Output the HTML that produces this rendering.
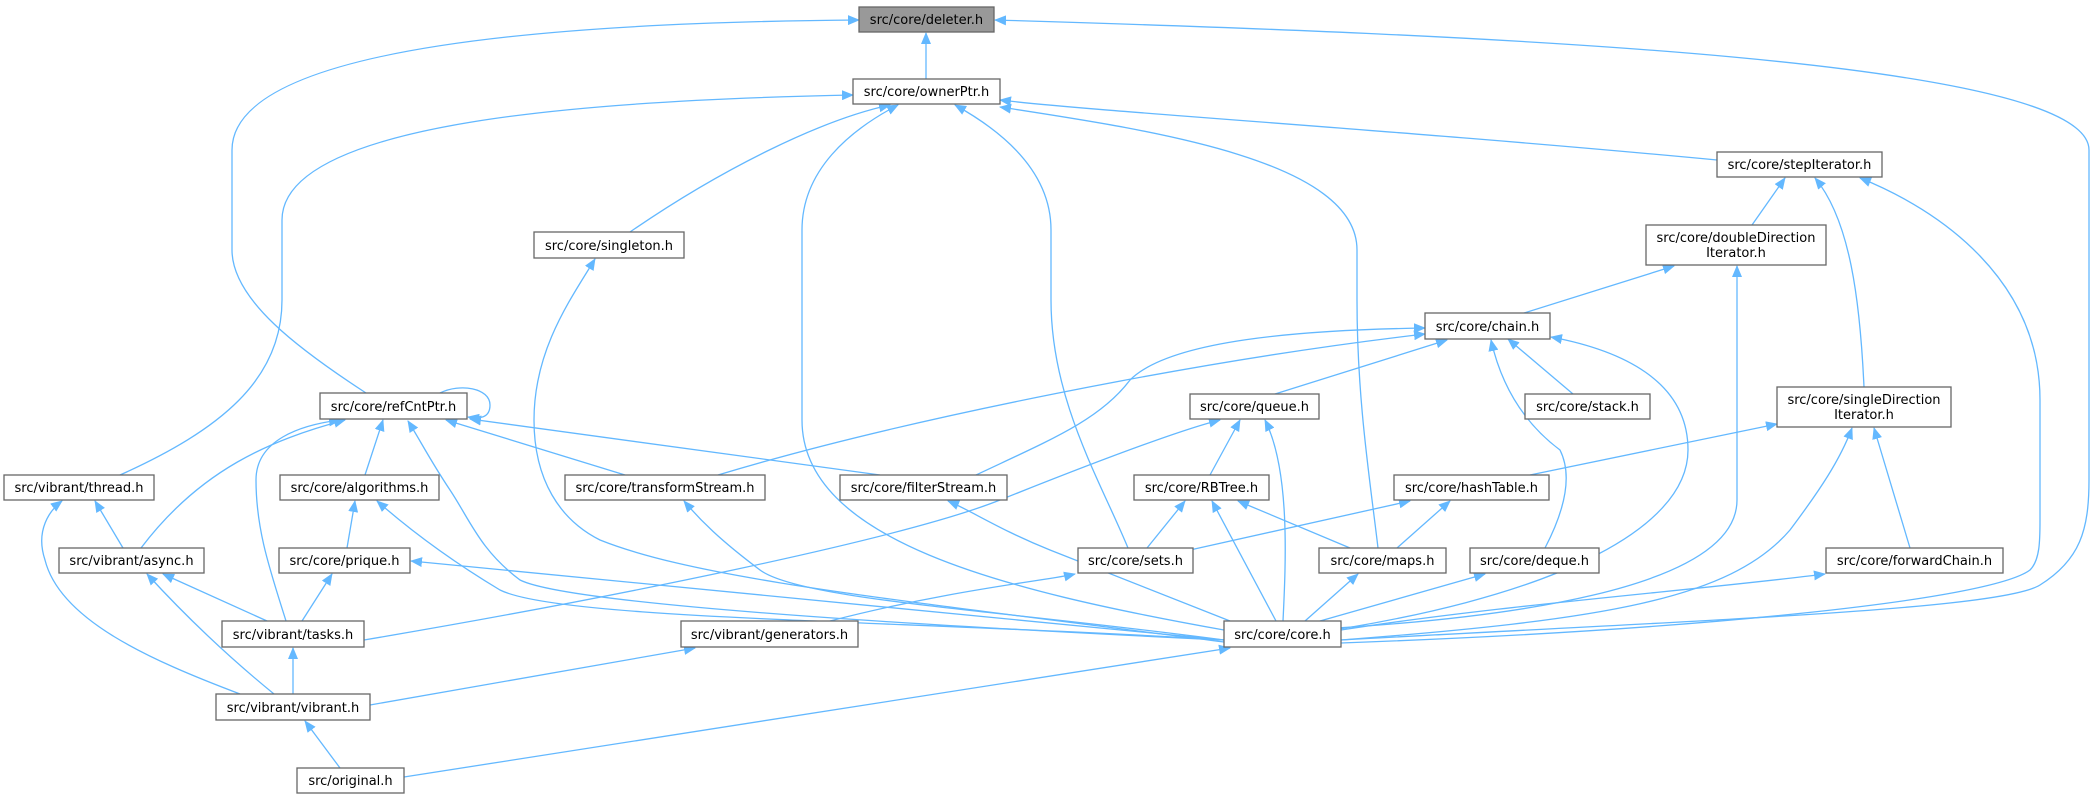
<!DOCTYPE html>
<html><head><meta charset="utf-8"><style>
html,body{margin:0;padding:0;background:#fff;}
svg{display:block;}
text{font-family:"DejaVu Sans","Liberation Sans",sans-serif;font-size:13px;fill:#000;}
.e{fill:none;stroke:#63b8ff;stroke-width:1.3;}
.n{fill:#fff;stroke:#666;stroke-width:1.3;}
</style></head><body>
<svg width="2096" height="799" viewBox="0 0 2096 799" xmlns="http://www.w3.org/2000/svg">
<defs>
<marker id="a" markerWidth="12" markerHeight="10" refX="11" refY="5" orient="auto" markerUnits="userSpaceOnUse">
<path d="M0,0 L12,5 L0,10 Z" fill="#63b8ff"/>
</marker>
</defs>
<g class="e" marker-end="url(#a)">
<path d="M926,79 L926,33"/>
<path d="M366,393 C300,350 232,300 232,250 L232,150 C232,40 600,22 859,20"/>
<path d="M120,475 C220,430 282,380 282,300 L282,220 C282,120 600,100 853,95"/>
<path d="M1341,640 C1700,620 2000,610 2040,585 C2080,560 2089,530 2089,480 L2089,150 C2089,60 1500,35 995,20"/>
<path d="M1717,160 C1400,130 1100,112 1000,100"/>
<path d="M630,232 C720,170 820,120 890,105"/>
<path d="M1224,630 C1000,590 802,540 802,420 L802,230 C802,170 850,130 898,105"/>
<path d="M1128,548 C1100,480 1051,400 1051,300 L1051,230 C1051,170 1000,130 955,105"/>
<path d="M1378,548 C1370,480 1357,400 1357,300 L1357,250 C1357,160 1150,130 1000,107"/>
<path d="M1752,225 L1785,178"/>
<path d="M1864,387 C1860,300 1850,220 1815,178"/>
<path d="M1341,643 C1700,630 1990,600 2030,570 C2040,560 2040,540 2040,520 L2040,400 C2040,280 1940,210 1860,178"/>
<path d="M1524,313 L1674,266"/>
<path d="M1300,630 C1500,620 1737,590 1737,500 L1737,266"/>
<path d="M1275,394 L1447,340"/>
<path d="M718,475 C900,420 1200,360 1425,334"/>
<path d="M976,475 C1050,440 1100,420 1130,380 C1170,340 1300,330 1425,328"/>
<path d="M1573,394 L1508,339"/>
<path d="M1545,548 C1570,500 1570,470 1560,450 C1520,420 1500,380 1491,340"/>
<path d="M1300,635 C1550,600 1688,530 1688,450 C1688,380 1620,350 1551,337"/>
<path d="M1530,475 L1777,424"/>
<path d="M1910,548 L1874,428"/>
<path d="M1341,640 C1600,620 1730,600 1790,530 C1820,490 1840,460 1852,428"/>
<path d="M1224,642 C900,600 700,580 600,540 C560,520 534,480 534,420 C534,350 570,300 595,259"/>
<path d="M440,393 C460,383 490,388 490,405 C490,418 480,419 468,417"/>
<path d="M365,475 L383,420"/>
<path d="M625,475 L446,420"/>
<path d="M880,475 L470,419"/>
<path d="M141,548 C200,470 270,440 345,420"/>
<path d="M286,621 C270,570 256,530 256,480 C256,440 300,425 340,420"/>
<path d="M1224,640 C800,620 560,600 520,580 C480,550 470,520 450,490 C430,460 420,440 408,421"/>
<path d="M1210,475 L1240,420"/>
<path d="M1283,621 C1286,560 1290,470 1265,420"/>
<path d="M364,640 C600,600 900,540 1000,500 C1100,460 1180,430 1220,420"/>
<path d="M1147,548 L1185,501"/>
<path d="M1350,548 L1238,501"/>
<path d="M1276,621 L1212,501"/>
<path d="M1190,550 L1410,501"/>
<path d="M1397,548 L1450,501"/>
<path d="M830,621 C950,590 1050,580 1075,574"/>
<path d="M1305,621 L1358,574"/>
<path d="M1320,621 L1485,574"/>
<path d="M1341,630 C1500,605 1700,590 1825,574"/>
<path d="M1224,640 C1000,610 800,600 760,570 C720,540 700,520 684,501"/>
<path d="M1230,621 C1150,590 1100,570 1050,550 C1000,530 970,510 948,501"/>
<path d="M1224,640 C900,620 560,620 500,590 C450,560 410,530 377,501"/>
<path d="M1224,640 L411,561"/>
<path d="M302,621 L332,574"/>
<path d="M347,548 L355,501"/>
<path d="M123,548 L95,501"/>
<path d="M240,694 C150,660 60,620 45,560 C35,530 50,510 62,501"/>
<path d="M267,621 L163,574"/>
<path d="M274,694 C220,650 180,610 147,574"/>
<path d="M293,694 L293,648"/>
<path d="M370,705 L695,648"/>
<path d="M340,768 L305,721"/>
<path d="M404,777 L1230,648"/>
</g>
<g>
<rect x="859" y="7" width="135" height="25" fill="#999" stroke="#666" stroke-width="1.3"/>
<text x="926.5" y="24" text-anchor="middle">src/core/deleter.h</text>
<rect class="n" x="853" y="79" width="147" height="25"/><text x="926.5" y="96" text-anchor="middle">src/core/ownerPtr.h</text>
<rect class="n" x="1717" y="152" width="165" height="25"/><text x="1799.5" y="169" text-anchor="middle">src/core/stepIterator.h</text>
<rect class="n" x="534" y="232" width="150" height="26"/><text x="609" y="250" text-anchor="middle">src/core/singleton.h</text>
<rect class="n" x="1646" y="225" width="180" height="40"/><text x="1736" y="242" text-anchor="middle">src/core/doubleDirection</text><text x="1736" y="257" text-anchor="middle">Iterator.h</text>
<rect class="n" x="1425" y="313" width="125" height="26"/><text x="1487.5" y="331" text-anchor="middle">src/core/chain.h</text>
<rect class="n" x="320" y="393" width="147" height="26"/><text x="393.5" y="411" text-anchor="middle">src/core/refCntPtr.h</text>
<rect class="n" x="1190" y="394" width="129" height="25"/><text x="1254.5" y="411" text-anchor="middle">src/core/queue.h</text>
<rect class="n" x="1525" y="394" width="125" height="25"/><text x="1587.5" y="411" text-anchor="middle">src/core/stack.h</text>
<rect class="n" x="1777" y="387" width="174" height="40"/><text x="1864" y="404" text-anchor="middle">src/core/singleDirection</text><text x="1864" y="419" text-anchor="middle">Iterator.h</text>
<rect class="n" x="4" y="475" width="150" height="25"/><text x="79" y="492" text-anchor="middle">src/vibrant/thread.h</text>
<rect class="n" x="280" y="475" width="159" height="25"/><text x="359.5" y="492" text-anchor="middle">src/core/algorithms.h</text>
<rect class="n" x="565" y="475" width="200" height="25"/><text x="665" y="492" text-anchor="middle">src/core/transformStream.h</text>
<rect class="n" x="840" y="475" width="167" height="25"/><text x="923.5" y="492" text-anchor="middle">src/core/filterStream.h</text>
<rect class="n" x="1134" y="475" width="135" height="25"/><text x="1201.5" y="492" text-anchor="middle">src/core/RBTree.h</text>
<rect class="n" x="1394" y="475" width="155" height="25"/><text x="1471.5" y="492" text-anchor="middle">src/core/hashTable.h</text>
<rect class="n" x="59" y="548" width="145" height="25"/><text x="131.5" y="565" text-anchor="middle">src/vibrant/async.h</text>
<rect class="n" x="279" y="548" width="131" height="25"/><text x="344.5" y="565" text-anchor="middle">src/core/prique.h</text>
<rect class="n" x="1078" y="548" width="115" height="25"/><text x="1135.5" y="565" text-anchor="middle">src/core/sets.h</text>
<rect class="n" x="1319" y="548" width="127" height="25"/><text x="1382.5" y="565" text-anchor="middle">src/core/maps.h</text>
<rect class="n" x="1470" y="548" width="129" height="25"/><text x="1534.5" y="565" text-anchor="middle">src/core/deque.h</text>
<rect class="n" x="1826" y="548" width="177" height="25"/><text x="1914.5" y="565" text-anchor="middle">src/core/forwardChain.h</text>
<rect class="n" x="222" y="621" width="142" height="26"/><text x="293" y="639" text-anchor="middle">src/vibrant/tasks.h</text>
<rect class="n" x="681" y="621" width="177" height="26"/><text x="769.5" y="639" text-anchor="middle">src/vibrant/generators.h</text>
<rect class="n" x="1224" y="621" width="117" height="26"/><text x="1282.5" y="639" text-anchor="middle">src/core/core.h</text>
<rect class="n" x="216" y="694" width="154" height="26"/><text x="293" y="712" text-anchor="middle">src/vibrant/vibrant.h</text>
<rect class="n" x="297" y="768" width="107" height="25"/><text x="350.5" y="785" text-anchor="middle">src/original.h</text>
</g>
</svg>
</body></html>
